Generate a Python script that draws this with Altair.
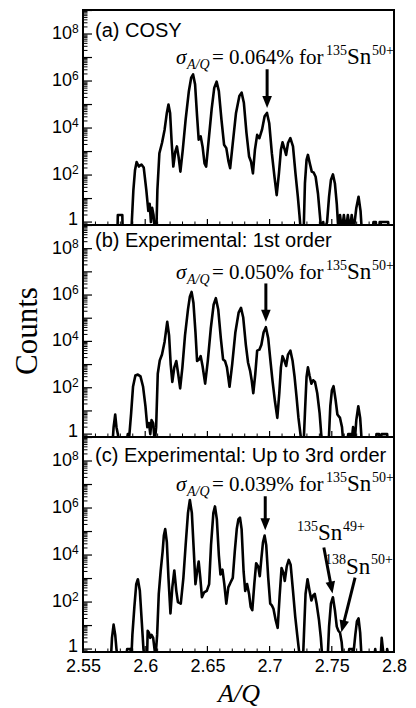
import math
import altair as alt
import pandas as pd

# ---------------- data (A/Q, counts) ----------------
aq_a = [2.5500, 2.5777, 2.5780, 2.5816, 2.5819, 2.5889, 2.5905, 2.5918, 2.5931, 2.5949,
        2.5970, 2.5988, 2.6009, 2.6025, 2.6036, 2.6046, 2.6056, 2.6067, 2.6077, 2.6090,
        2.6098, 2.6114, 2.6135, 2.6156, 2.6174, 2.6187, 2.6200, 2.6213, 2.6226, 2.6242,
        2.6255, 2.6268, 2.6283, 2.6302, 2.6325, 2.6351, 2.6370, 2.6385, 2.6401, 2.6417,
        2.6430, 2.6446, 2.6461, 2.6477, 2.6490, 2.6508, 2.6534, 2.6555, 2.6574, 2.6592,
        2.6613, 2.6634, 2.6652, 2.6670, 2.6683, 2.6704, 2.6730, 2.6757, 2.6775, 2.6793,
        2.6814, 2.6835, 2.6851, 2.6866, 2.6882, 2.6900, 2.6918, 2.6939, 2.6960, 2.6979,
        2.6997, 2.7018, 2.7039, 2.7057, 2.7075, 2.7091, 2.7104, 2.7122, 2.7133, 2.7148,
        2.7167, 2.7188, 2.7208, 2.7227, 2.7240, 2.7250, 2.7274, 2.7284, 2.7297, 2.7308,
        2.7323, 2.7339, 2.7355, 2.7370, 2.7389, 2.7404, 2.7415, 2.7431, 2.7441, 2.7462,
        2.7478, 2.7493, 2.7509, 2.7525, 2.7540, 2.7553, 2.7566, 2.7582, 2.7597, 2.7613,
        2.7629, 2.7645, 2.7660, 2.7676, 2.7697, 2.7715, 2.7731, 2.7741, 2.7828, 2.7835,
        2.7854, 2.7859, 2.7880, 2.7885, 2.7953, 2.7958, 2.8000]
counts_a = [0, 0, 2, 2, 0, 0, 23, 160, 360, 230,
            280, 210, 23, 3, 6, 1, 4, 2, 0, 0,
            23, 850, 2300, 8500, 44000, 100000, 44000, 2300, 230, 1000,
            1650, 610, 140, 1180, 23000, 370000, 1400000, 1900000, 720000, 32000,
            3200, 4400, 1650, 316, 230, 2300, 62000, 510000, 940000, 370000,
            23000, 1950, 1400, 370, 195, 2300, 44000, 230000, 320000, 120000,
            6200, 620, 370, 118, 1180, 5100, 3700, 8500, 32000, 44000,
            16000, 850, 85, 14, 118, 1180, 2450, 1180, 720, 2300,
            3700, 1650, 118, 12, 2, 0, 0, 44, 440, 720,
            316, 140, 126, 85, 16, 2, 0, 1, 0, 1,
            12, 62, 107, 44, 6, 0, 2, 0, 2, 0,
            2, 0, 2, 0, 4, 12, 3, 0, 0, 1,
            1, 0, 0, 1, 1, 0, 0]

aq_b = [2.5500, 2.5738, 2.5746, 2.5759, 2.5769, 2.5780, 2.5790, 2.5850, 2.5860, 2.5868,
        2.5887, 2.5902, 2.5921, 2.5941, 2.5962, 2.5983, 2.6002, 2.6017, 2.6030, 2.6041,
        2.6051, 2.6064, 2.6077, 2.6088, 2.6101, 2.6117, 2.6135, 2.6156, 2.6177, 2.6192,
        2.6205, 2.6218, 2.6234, 2.6250, 2.6265, 2.6281, 2.6299, 2.6320, 2.6344, 2.6359,
        2.6373, 2.6388, 2.6404, 2.6417, 2.6433, 2.6446, 2.6461, 2.6482, 2.6503, 2.6527,
        2.6550, 2.6568, 2.6587, 2.6608, 2.6626, 2.6642, 2.6657, 2.6678, 2.6699, 2.6725,
        2.6751, 2.6770, 2.6788, 2.6809, 2.6827, 2.6843, 2.6856, 2.6869, 2.6885, 2.6900,
        2.6918, 2.6934, 2.6952, 2.6970, 2.6989, 2.7007, 2.7023, 2.7043, 2.7062, 2.7078,
        2.7091, 2.7104, 2.7120, 2.7133, 2.7148, 2.7167, 2.7185, 2.7201, 2.7216, 2.7232,
        2.7248, 2.7255, 2.7274, 2.7284, 2.7297, 2.7308, 2.7321, 2.7336, 2.7350, 2.7365,
        2.7383, 2.7402, 2.7415, 2.7423, 2.7475, 2.7488, 2.7501, 2.7514, 2.7530, 2.7545,
        2.7566, 2.7582, 2.7592, 2.7624, 2.7632, 2.7650, 2.7658, 2.7671, 2.7684, 2.7697,
        2.7713, 2.7728, 2.7741, 2.7854, 2.7859, 2.7880, 2.7885, 2.7901, 2.7945, 2.7950,
        2.8000]
counts_b = [0, 0, 2, 7, 2, 1, 0, 0, 1, 0,
            8, 110, 340, 370, 310, 110, 16, 2, 3, 1,
            4, 3, 0, 2, 400, 1500, 2700, 9700, 70000, 18000,
            1000, 178, 760, 1420, 400, 94, 760, 18000, 240000, 850000,
            1370000, 450000, 25000, 1420, 1660, 2300, 870, 150, 1420, 35000,
            380000, 730000, 240000, 13500, 1660, 1420, 760, 110, 1000, 25000,
            174000, 280000, 107000, 7100, 1200, 550, 210, 58, 400, 4000,
            4400, 7100, 25000, 41000, 13500, 1420, 210, 26, 5, 58,
            760, 2300, 1420, 870, 2700, 4000, 1420, 290, 43, 5,
            1, 0, 0, 8, 290, 760, 340, 150, 210, 178,
            58, 8, 1, 0, 0, 16, 79, 117, 31, 7,
            5, 2, 0, 0, 1, 1, 0, 2, 0, 4,
            16, 5, 0, 0, 1, 1, 0, 1, 1, 0,
            0]

aq_c = [2.5500, 2.5725, 2.5733, 2.5746, 2.5759, 2.5769, 2.5777, 2.5847, 2.5855, 2.5881,
        2.5889, 2.5897, 2.5913, 2.5928, 2.5941, 2.5957, 2.5973, 2.5986, 2.5994, 2.6015,
        2.6020, 2.6030, 2.6041, 2.6051, 2.6064, 2.6075, 2.6083, 2.6096, 2.6109, 2.6124,
        2.6140, 2.6150, 2.6161, 2.6174, 2.6187, 2.6203, 2.6218, 2.6234, 2.6250, 2.6263,
        2.6286, 2.6307, 2.6325, 2.6344, 2.6359, 2.6375, 2.6391, 2.6404, 2.6417, 2.6430,
        2.6443, 2.6456, 2.6474, 2.6495, 2.6514, 2.6529, 2.6548, 2.6561, 2.6576, 2.6592,
        2.6605, 2.6621, 2.6636, 2.6652, 2.6668, 2.6686, 2.6704, 2.6720, 2.6736, 2.6749,
        2.6762, 2.6775, 2.6791, 2.6804, 2.6819, 2.6835, 2.6848, 2.6861, 2.6877, 2.6892,
        2.6908, 2.6921, 2.6934, 2.6947, 2.6960, 2.6973, 2.6989, 2.7005, 2.7018, 2.7031,
        2.7049, 2.7065, 2.7080, 2.7096, 2.7112, 2.7122, 2.7138, 2.7154, 2.7169, 2.7188,
        2.7206, 2.7222, 2.7235, 2.7242, 2.7269, 2.7276, 2.7289, 2.7305, 2.7321, 2.7336,
        2.7350, 2.7363, 2.7378, 2.7397, 2.7412, 2.7423, 2.7467, 2.7478, 2.7493, 2.7509,
        2.7525, 2.7540, 2.7553, 2.7566, 2.7579, 2.7590, 2.7632, 2.7640, 2.7666, 2.7671,
        2.7689, 2.7702, 2.7715, 2.7728, 2.7739, 2.7841, 2.7849, 2.7859, 2.7893, 2.7901,
        2.7911, 2.7919, 2.7942, 2.7945, 2.7958, 2.8000]
counts_c = [0, 0, 3, 11, 4, 1, 0, 0, 1, 1,
            0, 4, 62, 580, 930, 300, 13, 1, 0, 0,
            6, 5, 3, 4, 3, 1, 0, 4, 220, 2000,
            14000, 68000, 127000, 35000, 1070, 33, 420, 2200, 300, 100,
            85, 1070, 26000, 620000, 2200000, 620000, 14000, 580, 2000, 5300,
            1070, 160, 260, 300, 580, 26000, 620000, 1170000, 330000, 10000,
            1500, 2400, 580, 85, 420, 680, 1070, 14000, 127000, 330000,
            390000, 127000, 2000, 300, 580, 220, 62, 45, 580, 4500,
            3300, 1260, 7200, 35000, 67000, 26000, 1070, 85, 72, 52,
            17, 8, 160, 2800, 1700, 790, 3300, 6200, 3900, 300,
            24, 4, 1, 0, 0, 4, 220, 930, 300, 117,
            190, 220, 85, 17, 3, 0, 0, 9, 85, 160,
            45, 9, 6, 5, 2, 0, 0, 1, 1, 0,
            4, 15, 20, 5, 0, 0, 1, 0, 0, 3,
            1, 0, 0, 1, 0, 0]

panel_titles = ["(a) COSY", "(b) Experimental: 1st order", "(c) Experimental: Up to 3rd order"]
sigma_values = ["0.064%", "0.050%", "0.039%"]
x_tick_labels = [2.55, 2.6, 2.65, 2.7, 2.75, 2.8]
x_minor_ticks = [2.56, 2.57, 2.58, 2.59, 2.61, 2.62, 2.63, 2.64, 2.66, 2.67,
                 2.68, 2.69, 2.71, 2.72, 2.73, 2.74, 2.76, 2.77, 2.78, 2.79]
y_label_values = [1, 1e2, 1e4, 1e6, 1e8]
y_label_exps = ["", "2", "4", "6", "8"]

# ---------------- layout / style ----------------
W = 311
HEIGHTS = [215, 212, 215]
LEFT_SPACE = 74  # room kept left of the plot frames (tick labels + "Counts")
XD = [2.55, 2.8]
YD = [0.75, 1.05e9]
LMIN, LMAX = math.log10(YD[0]), math.log10(YD[1])
INK = "#000000"
SANS = "Liberation Sans"
SERIF = "Liberation Serif"
FLOOR = 0.45  # empty bins are drawn below the frame (clipped)

y_major_ticks = [10 ** k for k in range(0, 10)]
y_minor_ticks = [m * 10 ** k for k in range(-1, 9) for m in range(2, 10)
                 if YD[0] <= m * 10 ** k <= YD[1]]

x_scale = alt.Scale(domain=XD, nice=False, zero=False)
y_scale = alt.Scale(type="log", domain=YD, nice=False)

x_axis = alt.Axis(values=x_tick_labels, format="~g", ticks=False, tickSize=0,
                  domain=False, grid=False, labelFont=SANS, labelFontSize=18,
                  labelColor=INK, labelPadding=5, labelFlush=False,
                  labelOverlap=False, labelBound=False, title="A/Q",
                  titleFont=SERIF, titleFontSize=26, titleFontStyle="italic",
                  titleFontWeight="normal", titleColor=INK, titlePadding=5)


def xf(field, ax):
    return alt.X(field, type="quantitative", scale=x_scale, axis=ax)


def yf(field):
    return alt.Y(field, type="quantitative", scale=y_scale, axis=None)


def txt(s, x, y, size, font=SERIF, style="normal", align="left",
        baseline="alphabetic", **kw):
    return alt.Chart(alt.Data(values=[{"t": s}])).mark_text(
        align=align, baseline=baseline, font=font, fontSize=size,
        fontStyle=style, color=INK, **kw
    ).encode(x=alt.value(x), y=alt.value(y), text="t:N")


def arrow(h, ax, x0, y0, x1, y1, head=12, width=3):
    def sx(x):
        return (x - XD[0]) / (XD[1] - XD[0]) * W

    def sy(y):
        return h * (LMAX - math.log10(y)) / (LMAX - LMIN)

    px0, py0, px1, py1 = sx(x0), sy(y0), sx(x1), sy(y1)
    L = math.hypot(px1 - px0, py1 - py0)
    ux, uy = (px1 - px0) / L, (py1 - py0) / L
    ex, ey = px1 - ux * head * 0.6, py1 - uy * head * 0.6
    xe = XD[0] + ex / W * (XD[1] - XD[0])
    ye = 10 ** (LMAX - ey / h * (LMAX - LMIN))
    ang = round(math.degrees(math.atan2(-ux, uy)) % 360, 2)
    shaft = alt.Chart(pd.DataFrame({"x": [x0], "y": [y0], "x2": [xe], "y2": [ye]})).mark_rule(
        strokeWidth=width, color=INK
    ).encode(x=xf("x", ax), y=yf("y"), x2=alt.X2("x2"), y2=alt.Y2("y2"))
    tip = alt.Chart(pd.DataFrame({"x": [x1], "y": [y1]})).mark_point(
        shape="M0,0L-0.4,-1L0.4,-1Z", filled=True, size=(2 * head) ** 2,
        angle=ang, color=INK, opacity=1, strokeWidth=0
    ).encode(x=xf("x", ax), y=yf("y"))
    return [shaft, tip]


def panel(i, aq, counts, title_y, arrows, extra_text):
    h = HEIGHTS[i]
    ax = x_axis if i == 2 else None
    df = pd.DataFrame({"aq": aq, "counts": [c if c > 0 else FLOOR for c in counts]})
    layers = []
    # invisible spacer fixing the room on the left of the frames
    layers.append(alt.Chart(alt.Data(values=[{"s": 0}])).mark_rule(
        opacity=0, strokeWidth=1).encode(
        x=alt.value(-LEFT_SPACE), y=alt.value(h / 2 - 1), y2=alt.value(h / 2 + 1)))
    # inward ticks
    layers.append(alt.Chart(pd.DataFrame({"v": y_major_ticks})).mark_rule(
        color=INK, strokeWidth=1.2).encode(y=yf("v"), x=alt.value(0), x2=alt.value(9)))
    layers.append(alt.Chart(pd.DataFrame({"v": y_minor_ticks})).mark_rule(
        color=INK, strokeWidth=1.0).encode(y=yf("v"), x=alt.value(0), x2=alt.value(4.5)))
    layers.append(alt.Chart(pd.DataFrame({"v": x_tick_labels})).mark_rule(
        color=INK, strokeWidth=1.2).encode(x=xf("v", ax), y=alt.value(h), y2=alt.value(h - 6)))
    layers.append(alt.Chart(pd.DataFrame({"v": x_minor_ticks})).mark_rule(
        color=INK, strokeWidth=1.0).encode(x=xf("v", ax), y=alt.value(h), y2=alt.value(h - 3.5)))
    # histogram
    layers.append(alt.Chart(df).mark_line(
        color=INK, strokeWidth=2.6, clip=True, strokeJoin="round"
    ).encode(x=xf("aq", ax), y=yf("counts")))
    # y tick labels
    dec = pd.DataFrame({"v": y_label_values[1:], "e": y_label_exps[1:]})
    layers.append(alt.Chart(dec).mark_text(
        align="right", baseline="middle", font=SANS, fontSize=18, color=INK, text="10"
    ).encode(y=yf("v"), x=alt.value(-11)))
    layers.append(alt.Chart(dec).mark_text(
        align="left", baseline="middle", font=SANS, fontSize=12, color=INK, dy=-5
    ).encode(y=yf("v"), x=alt.value(-11), text="e:N"))
    layers.append(alt.Chart(pd.DataFrame({"v": y_label_values[:1]})).mark_text(
        align="right", baseline="middle", font=SANS, fontSize=18, color=INK, text="1", dy=-2
    ).encode(y=yf("v"), x=alt.value(-5)))
    # panel title
    layers.append(txt(panel_titles[i], 12, title_y, 20, SANS, baseline="middle"))
    # sigma line
    y0 = 54
    sx0 = 93
    layers += [
        txt("σ", sx0, y0, 21, SERIF, "italic"),
        txt("A/Q", sx0 + 11, y0 + 5, 14, SERIF, "italic"),
        txt("= " + sigma_values[i] + " for", sx0 + 36, y0, 21, SERIF),
        txt("135", sx0 + 150, y0 - 9, 14, SERIF),
        txt("Sn", sx0 + 171, y0, 23, SERIF),
        txt("50+", sx0 + 196, y0 - 9, 14, SERIF),
    ]
    for a in arrows:
        layers += arrow(h, ax, *a)
    layers += extra_text
    return alt.layer(*layers).properties(width=W, height=HEIGHTS[i])


pa = panel(0, aq_a, counts_a, 21, [(2.698, 10 ** 6.5, 2.698, 10 ** 4.85)], [])
pb = panel(1, aq_b, counts_b, 16, [(2.697, 10 ** 6.5, 2.697, 10 ** 4.85)],
           [txt("Counts", -55, HEIGHTS[1] / 2, 31, SERIF, align="center",
                baseline="middle", angle=270)])
pc = panel(2, aq_c, counts_c, 19,
           [(2.6965, 10 ** 6.5, 2.6965, 10 ** 5.05),
            (2.7436, 2.1e4, 2.7506, 230),
            (2.7687, 1100, 2.7577, 5.2)],
           [txt("135", 214, 94, 14), txt("Sn", 235, 103, 23), txt("49+", 260, 94, 14),
            txt("138", 242, 127, 14), txt("Sn", 263, 137, 23), txt("50+", 288, 127, 14)])

chart = alt.vconcat(pa, pb, pc, spacing=0, bounds="flush").properties(
    padding={"left": 0, "top": 0, "right": 0, "bottom": 0}
).configure_view(stroke=INK, strokeWidth=2)

chart.save("out.html", embed_options={"renderer": "svg", "actions": False})
